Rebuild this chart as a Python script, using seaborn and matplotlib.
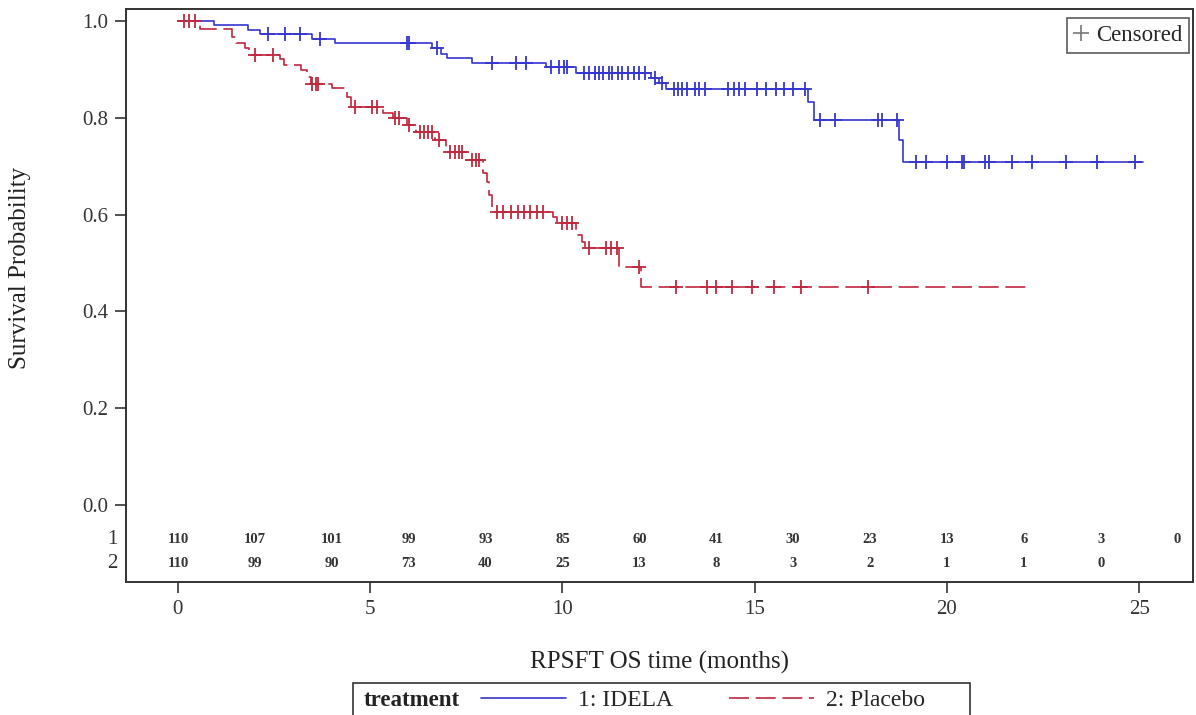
import numpy as np
import pandas as pd
import matplotlib
matplotlib.use("Agg")
import matplotlib.pyplot as plt
import seaborn as sns
from matplotlib.lines import Line2D
from matplotlib.patches import Rectangle
import matplotlib.transforms as mtransforms

# step times / survival levels
idela_t = [0, 0.95, 1.82, 2.13, 3.48, 4.08, 6.62, 6.85, 7.0, 7.66, 9.58, 10.36,
           12.3, 12.5, 12.7, 16.4, 16.55, 18.75, 18.85, 25.1]
idela_s = [1.0, 0.991, 0.981, 0.973, 0.964, 0.954, 0.944, 0.933, 0.923, 0.914, 0.906, 0.892,
           0.882, 0.872, 0.859, 0.833, 0.795, 0.754, 0.709, 0.709]
placebo_t = [0, 0.57, 1.4, 1.5, 1.74, 1.85, 2.65, 2.75, 3.2, 3.35, 3.45, 4.0, 4.4, 4.5,
             5.33, 5.6, 5.95, 6.2, 6.68, 6.98, 7.5, 7.93, 8.03, 8.1, 8.18, 9.75, 9.85,
             10.36, 10.5, 10.6, 11.48, 12.05, 22.1]
placebo_s = [1.0, 0.983, 0.968, 0.954, 0.944, 0.93, 0.921, 0.909, 0.899, 0.885, 0.871, 0.861,
             0.844, 0.823, 0.81, 0.80, 0.785, 0.771, 0.754, 0.73, 0.713, 0.686, 0.668, 0.64,
             0.606, 0.595, 0.582, 0.558, 0.544, 0.531, 0.492, 0.451, 0.451]

# censoring times
idela_cens = [2.34, 2.78, 3.17, 3.69, 5.95, 6.0, 6.75, 8.18, 8.8, 9.06, 9.7, 9.9, 10.05, 10.12,
              10.55, 10.7, 10.85, 10.95, 11.05, 11.2, 11.3, 11.45, 11.55, 11.7, 11.85, 12.0,
              12.15, 12.4, 12.6, 12.9, 13.0, 13.1, 13.25, 13.45, 13.55, 13.7, 14.3, 14.45,
              14.6, 14.75, 15.05, 15.3, 15.55, 15.75, 16.0, 16.3, 16.7, 17.1, 18.2, 18.3,
              18.7, 19.2, 19.45, 20.0, 20.4, 20.45, 21.0, 21.1, 21.7, 22.2, 23.1, 23.9, 24.9]
placebo_cens = [0.15, 0.3, 0.45, 2.0, 2.47, 3.5, 3.6, 3.65, 4.6, 5.06, 5.17, 5.65, 5.75, 6.0,
                6.3, 6.4, 6.5, 6.6, 6.8, 7.07, 7.2, 7.3, 7.4, 7.66, 7.75, 7.84, 8.3, 8.45,
                8.65, 8.85, 9.0, 9.15, 9.35, 9.5, 10.0, 10.12, 10.26, 10.7, 11.14, 11.27,
                11.43, 12.0, 12.96, 13.77, 14.0, 14.4, 14.94, 15.5, 16.2, 17.95]

# number at risk
risk_times = [0, 2, 4, 6, 8, 10, 12, 14, 16, 18, 20, 22, 24, 26]
risk_idela = [110, 107, 101, 99, 93, 85, 60, 41, 30, 23, 13, 6, 3, 0]
risk_placebo = [110, 99, 90, 73, 40, 25, 13, 8, 3, 2, 1, 1, 0]

groups = ["1: IDELA", "2: Placebo"]
colors = {"1: IDELA": "#3535D0", "2: Placebo": "#C0283E"}


def surv_at(times, surv, pts):
    idx = np.searchsorted(times, pts, side="right") - 1
    return np.asarray(surv)[idx]


steps = pd.concat([
    pd.DataFrame({"time": idela_t, "surv": idela_s, "treatment": groups[0]}),
    pd.DataFrame({"time": placebo_t, "surv": placebo_s, "treatment": groups[1]}),
])
cens = pd.concat([
    pd.DataFrame({"time": idela_cens, "surv": surv_at(idela_t, idela_s, idela_cens),
                  "treatment": groups[0]}),
    pd.DataFrame({"time": placebo_cens, "surv": surv_at(placebo_t, placebo_s, placebo_cens),
                  "treatment": groups[1]}),
])

sns.set_style("ticks")
plt.rcParams["font.family"] = ["Liberation Serif", "DejaVu Serif"]

fig = plt.figure(figsize=(11.96, 7.15), dpi=100)
ax = fig.add_axes([126 / 1196, 1 - 582 / 715, (1193 - 126) / 1196, (582 - 9) / 715])

sns.lineplot(data=steps, x="time", y="surv", hue="treatment", style="treatment",
             palette=colors, dashes={groups[0]: "", groups[1]: (12, 4)},
             drawstyle="steps-post", estimator=None, sort=True, linewidth=1.2,
             legend=False, ax=ax)
for g in groups:
    sub = cens[cens["treatment"] == g]
    ax.plot(sub["time"], sub["surv"], ls="none", marker="+", ms=10, mew=1.3, color=colors[g])

ax.set_xlim(-1.35, 26.4)
ax.set_ylim(-0.159, 1.025)
ax.set_xticks([0, 5, 10, 15, 20, 25])
ax.set_yticks([0, 0.2, 0.4, 0.6, 0.8, 1.0])
ax.set_yticklabels(["0.0", "0.2", "0.4", "0.6", "0.8", "1.0"])
ax.tick_params(axis="both", labelsize=15, colors="#333333", length=8, width=1.2, pad=5)
for sp in ax.spines.values():
    sp.set_color("#333333")
    sp.set_linewidth(1.4)

ax.set_xlabel("RPSFT OS time (months)", fontsize=18, color="#222222", va="center")
ax.xaxis.set_label_coords(0.5, -0.1396)
ax.set_ylabel("Survival Probability", fontsize=18, color="#222222", va="center")
ax.yaxis.set_label_coords(-0.099, 0.548)

# at-risk table inside the plot area
for t, n in zip(risk_times, risk_idela):
    ax.text(t, -0.072, str(n), ha="center", va="center", fontsize=10.5, fontweight="bold",
            color="#333333")
for t, n in zip(risk_times, risk_placebo):
    ax.text(t, -0.12, str(n), ha="center", va="center", fontsize=10.5, fontweight="bold",
            color="#333333")
trans = mtransforms.blended_transform_factory(ax.transAxes, ax.transData)
ax.text(-0.008, -0.072, "1", transform=trans, ha="right", va="center", fontsize=15, color="#333333")
ax.text(-0.008, -0.12, "2", transform=trans, ha="right", va="center", fontsize=15, color="#333333")

# censored key
cleg = ax.legend(handles=[Line2D([], [], ls="none", marker="+", ms=11, mew=1.2, color="#777777")],
                 labels=["Censored"], loc="upper right", bbox_to_anchor=(1 - 4 / 1067, 1 - 9 / 573),
                 borderaxespad=0, fontsize=16.5, handlelength=0.6, handletextpad=0.35,
                 frameon=True, fancybox=False, edgecolor="#333333", borderpad=0.3)
cleg.get_frame().set_linewidth(1.2)

# treatment legend at the bottom
fig.patches.append(Rectangle((353 / 1196, -0.01), (970 - 353) / 1196, 0.01 + 1 - 683 / 715,
                             transform=fig.transFigure, fill=False, edgecolor="#333333",
                             linewidth=1.2))
fig.text(364 / 1196, 1 - 700 / 715, "treatment", fontsize=16.5, fontweight="bold",
         va="center", ha="left", color="#222222")
handles = [Line2D([], [], color=colors[groups[0]], lw=1.2),
           Line2D([], [], color=colors[groups[1]], lw=1.2, dashes=(12, 4))]
fig.legend(handles=handles, labels=groups, loc="center left",
           bbox_to_anchor=(481 / 1196, 1 - 700 / 715), ncol=2, frameon=False, fontsize=17,
           handlelength=3.6, handletextpad=0.5, columnspacing=2.4, borderpad=0, borderaxespad=0)

fig.savefig("out.png", dpi=100)
